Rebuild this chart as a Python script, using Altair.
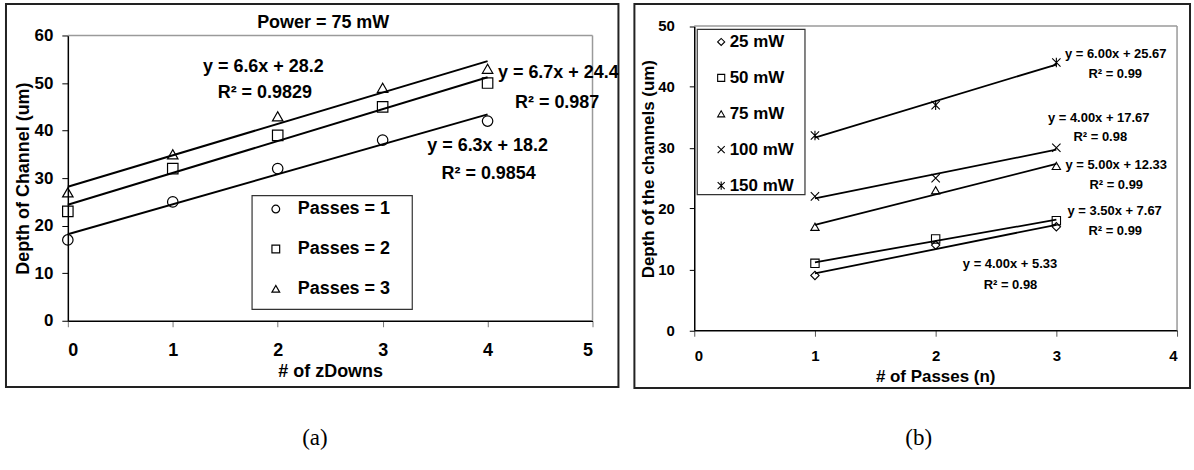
import altair as alt
import pandas as pd

# ---------------- panel (a): channel depth vs. number of zDowns, 75 mW ----------------
zdowns = [0, 1, 2, 3, 4]
passes_labels = ["Passes = 1", "Passes = 2", "Passes = 3"]
depth_passes_1 = [17, 25, 32, 38, 42]
depth_passes_2 = [23, 32, 39, 45, 50]
depth_passes_3 = [27, 35, 43, 49, 53]
fit_slope_a = [6.3, 6.7, 6.6]
fit_intercept_a = [18.2, 24.4, 28.2]
fit_r2_a = ["0.9854", "0.987", "0.9829"]

# ---------------- panel (b): channel depth vs. number of passes ----------------
passes = [1, 2, 3]
power_labels = ["25 mW", "50 mW", "75 mW", "100 mW", "150 mW"]
depth_25 = [9, 14, 17]
depth_50 = [11, 15, 18]
depth_75 = [17, 23, 27]
depth_100 = [22, 25, 30]
depth_150 = [32, 37, 44]
fit_slope_b = [4.00, 3.50, 5.00, 4.00, 6.00]
fit_intercept_b = [5.33, 7.67, 12.33, 17.67, 25.67]
fit_r2_b = ["0.98", "0.99", "0.99", "0.98", "0.99"]

FONT = "Liberation Sans"
SERIF = "Liberation Serif"

X_PATH = "M-1,-1L1,1M-1,1L1,-1"
STAR_PATH = "M-1,-1L1,1M-1,1L1,-1M0,-1.15L0,1.15"


def long_table(xs, names, series, key):
    rows = []
    for name, vals in zip(names, series):
        for x, y in zip(xs, vals):
            rows.append({"x": x, "y": y, key: name})
    return pd.DataFrame(rows)


def trend_table(xs, names, slopes, intercepts, key):
    rows = []
    for name, m, b in zip(names, slopes, intercepts):
        for x in (xs[0], xs[-1]):
            rows.append({"x": x, "y": m * x + b, key: name})
    return pd.DataFrame(rows)


one_row = pd.DataFrame({"k": [0]})


def frame(x1, x2, y1, y2, width=2, color="#222"):
    return alt.Chart(one_row).mark_rect(
        fill="transparent", stroke=color, strokeWidth=width
    ).encode(x=alt.value(x1), x2=alt.value(x2), y=alt.value(y1), y2=alt.value(y2))


def label(text, x, y, size, font=FONT, weight="bold"):
    return alt.Chart(one_row).mark_text(
        font=font, fontWeight=weight, fontSize=size, color="black",
        align="center", baseline="middle"
    ).encode(x=alt.value(x), y=alt.value(y), text=alt.value(text))


def annotations(anchors, texts, xenc, yenc, size):
    df = pd.DataFrame({"x": [a[0] for a in anchors], "y": [a[1] for a in anchors], "t": texts})
    return alt.Chart(df).mark_text(
        font=FONT, fontWeight="bold", fontSize=size, color="black",
        align="center", baseline="middle"
    ).encode(x=xenc, y=yenc, text="t:N")


def plot_border(xenc, yenc, xmax, ymax):
    # light grey top and right edges of the plotting area, in data units
    df = pd.DataFrame({"x": [0, xmax], "y": [ymax, 0], "x2": [xmax, xmax], "y2": [ymax, ymax]})
    return alt.Chart(df).mark_rule(color="#9a9a9a", strokeWidth=1.5).encode(
        x=xenc, y=yenc, x2="x2:Q", y2="y2:Q")


# ---------------- panel (a) ----------------
W_A, H_A = 526, 286
x_a = alt.X("x:Q", scale=alt.Scale(domain=[0, 5], nice=False, zero=False), axis=alt.Axis(
    values=[0, 1, 2, 3, 4, 5], format="d", title="# of zDowns",
    tickSize=6, tickColor="#777", labelPadding=23.5, labelBaseline="middle",
    labelFontSize=18, titleFontSize=18, titleX=263, titleY=50.5,
    titleBaseline="middle", titleAlign="center"))
y_a = alt.Y("y:Q", scale=alt.Scale(domain=[0, 60], nice=False), axis=alt.Axis(
    values=[0, 10, 20, 30, 40, 50, 60], title="Depth of Channel (um)",
    tickSize=6, tickColor="black", labelPadding=9, labelFontSize=17,
    titleFontSize=18, titleX=-44, titleY=143, titleBaseline="middle",
    titleAlign="center", titleAngle=270))

pts_a = long_table(zdowns, passes_labels, [depth_passes_1, depth_passes_2, depth_passes_3], "series")
fit_a = trend_table(zdowns, passes_labels, fit_slope_a, fit_intercept_a, "series")

points_a = alt.Chart(pts_a).mark_point(
    filled=False, color="black", size=110, strokeWidth=1.2, opacity=1
).encode(
    x=x_a, y=y_a,
    shape=alt.Shape("series:N", scale=alt.Scale(
        domain=passes_labels, range=["circle", "square", "triangle-up"]),
        legend=alt.Legend(
            title=None, orient="none", legendX=199.5, legendY=165, direction="vertical",
            padding=0, rowPadding=22, labelOffset=13, labelFont=FONT,
            labelFontWeight="bold", labelFontSize=18, labelColor="black",
            symbolSize=60, symbolStrokeWidth=1.2, symbolStrokeColor="black",
            symbolFillColor="transparent")),
)

lines_a = alt.Chart(fit_a).mark_line(color="black", strokeWidth=2).encode(
    x=x_a, y=y_a, detail="series:N",
)

eq_a = [f"y = {m:.1f}x + {b:.1f}" for m, b in zip(fit_slope_a, fit_intercept_a)]
r2_a = [f"R² = {r}" for r in fit_r2_a]
eq_pos_a = [(4.00, 36.8), (4.674, 52.2), (1.863, 53.45)]
r2_pos_a = [(4.01, 30.95), (4.663, 45.9), (1.877, 47.87)]

panel_a = alt.layer(
    frame(-62, 552, -31.5, 352.5),
    plot_border(x_a, y_a, 5, 60),
    lines_a,
    points_a,
    annotations(eq_pos_a, eq_a, x_a, y_a, 18),
    annotations(r2_pos_a, r2_a, x_a, y_a, 18),
    frame(184.7, 345.3, 160.5, 274.5, width=1.2, color="#333"),
    label("Power = 75 mW", 256, -12.5, 18),
    label("(a)", 247.7, 403.5, 23, font=SERIF, weight="normal"),
).properties(width=W_A, height=H_A)

# ---------------- panel (b) ----------------
# the group origin is shared with panel (a); the y range starts above it so that
# this plot area sits higher inside its frame
W_B, H_B = 484, 295.5
x_b = alt.X("x:Q", scale=alt.Scale(domain=[0, 4], nice=False, zero=False), axis=alt.Axis(
    values=[0, 1, 2, 3, 4], format="d", title="# of Passes (n)",
    tickSize=6, tickColor="#555", labelPadding=19, labelBaseline="middle",
    labelFontSize=15, titleFontSize=17, titleX=241.5, titleY=46.7,
    titleBaseline="middle", titleAlign="center"))
y_b = alt.Y("y:Q", scale=alt.Scale(domain=[0, 50], nice=False, range=[H_B, -9.5]), axis=alt.Axis(
    values=[0, 10, 20, 30, 40, 50], title="Depth of the channels (um)",
    tickSize=5, tickColor="black", labelPadding=15, labelFontSize=15,
    titleFontSize=17, titleX=-46, titleY=133.5, titleBaseline="middle",
    titleAlign="center", titleAngle=270))

pts_b = long_table(passes, power_labels,
                   [depth_25, depth_50, depth_75, depth_100, depth_150], "power")
fit_b = trend_table(passes, power_labels, fit_slope_b, fit_intercept_b, "power")

points_b = alt.Chart(pts_b).mark_point(
    filled=False, color="black", size=70, strokeWidth=1.1, opacity=1
).encode(
    x=x_b, y=y_b,
    shape=alt.Shape("power:N", scale=alt.Scale(
        domain=power_labels,
        range=["diamond", "square", "triangle-up", X_PATH, STAR_PATH]),
        legend=alt.Legend(
            title=None, orient="none", legendX=18.5, legendY=-2, direction="vertical",
            padding=0, rowPadding=18, labelOffset=0, labelFont=FONT,
            labelFontWeight="bold", labelFontSize=17, labelColor="black",
            symbolSize=50, symbolStrokeWidth=1.1, symbolStrokeColor="black",
            symbolFillColor="transparent")),
)

lines_b = alt.Chart(fit_b).mark_line(color="black", strokeWidth=1.8).encode(
    x=x_b, y=y_b, detail="power:N",
)

eq_b = [f"y = {m:.2f}x + {b:.2f}" for m, b in zip(fit_slope_b, fit_intercept_b)]
r2_b = [f"R² = {r}" for r in fit_r2_b]
eq_pos_b = [(2.616, 10.82), (3.483, 19.67), (3.496, 27.21), (3.351, 34.92), (3.492, 45.36)]
r2_pos_b = [(2.62, 7.38), (3.488, 16.28), (3.496, 23.93), (3.364, 31.69), (3.488, 42.18)]

panel_b = alt.layer(
    frame(-60, 497, -31.5, 353.5),
    plot_border(x_b, y_b, 4, 50),
    lines_b,
    points_b,
    annotations(eq_pos_b, eq_b, x_b, y_b, 13),
    annotations(r2_pos_b, r2_b, x_b, y_b, 13),
    frame(3, 111, -6.2, 159.5, width=1.2, color="#333"),
    label("(b)", 225, 403.5, 23, font=SERIF, weight="normal"),
).properties(width=W_B, height=H_B)

chart = alt.concat(
    panel_a, panel_b, columns=2, spacing=12
).resolve_scale(
    shape="independent"
).resolve_legend(
    shape="independent"
).properties(
    padding={"left": 4, "top": 2, "right": 2, "bottom": 2},
    background="white",
).configure_view(
    stroke="transparent"
).configure_axis(
    domainColor="black", domainWidth=1.5, grid=False,
    labelFont=FONT, labelFontWeight="bold", labelColor="black",
    titleFont=FONT, titleFontWeight="bold", titleColor="black",
)

chart.save("out.html", embed_options={"renderer": "svg", "actions": False})
